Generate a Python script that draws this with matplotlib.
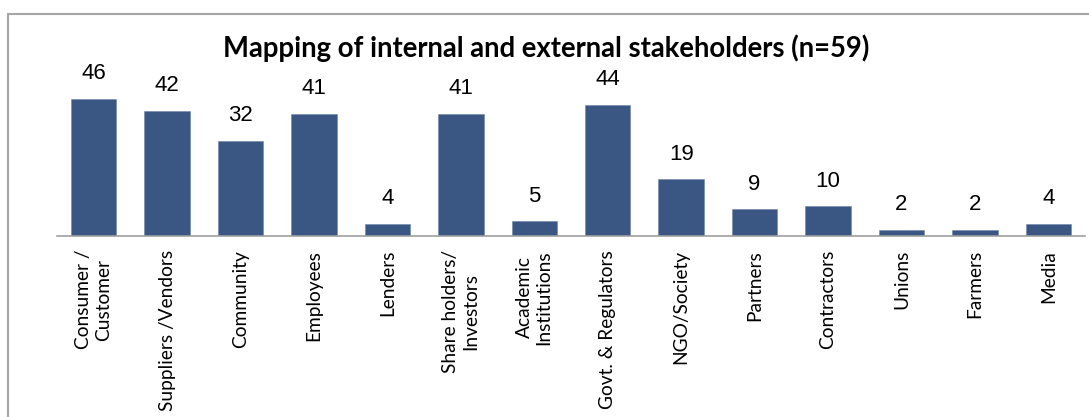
import matplotlib.pyplot as plt
from matplotlib.patches import Rectangle

categories = [
    "Consumer /\nCustomer",
    "Suppliers /Vendors",
    "Community",
    "Employees",
    "Lenders",
    "Share holders/\nInvestors",
    "Academic\nInstitutions",
    "Govt. & Regulators",
    "NGO/Society",
    "Partners",
    "Contractors",
    "Unions",
    "Farmers",
    "Media",
]
counts = [46, 42, 32, 41, 4, 41, 5, 44, 19, 9, 10, 2, 2, 4]

bar_color = "#3A5783"
W, H = 1089, 417

fig = plt.figure(figsize=(W / 100, H / 100), dpi=100)

# axes placed in pixel terms: baseline at y=236, x from 57 to 1085
ax = fig.add_axes([57 / W, (H - 236) / H, (1085 - 57) / W, 149 / H])

x = range(len(categories))
bars = ax.bar(x, counts, width=0.62, color=bar_color, edgecolor="#6f86a8", linewidth=0.4)

for b, v in zip(bars, counts):
    ax.annotate(
        str(v),
        (b.get_x() + b.get_width() / 2, b.get_height()),
        xytext=(0, 10.5),
        textcoords="offset points",
        ha="center",
        va="bottom",
        fontsize=16,
        family="Liberation Sans",
        annotation_clip=False,
    )

ax.set_xlim(-0.5, len(categories) - 0.5)
ax.set_ylim(0, 50)
ax.set_yticks([])
ax.set_xticks(list(x))
ax.set_xticklabels(categories, rotation=90, fontsize=13.8, family="Lato",
                   multialignment="center")
ax.tick_params(axis="x", length=0, pad=10)
for side in ["top", "left", "right"]:
    ax.spines[side].set_visible(False)
ax.spines["bottom"].set_color("#a0a0a0")
ax.spines["bottom"].set_linewidth(1.2)

fig.text(546 / W, 1 - 48 / H, "Mapping of internal and external stakeholders (n=59)",
         ha="center", va="center", fontsize=19.8, fontweight="bold", family="Lato")

# chart frame (cropped on the right and bottom)
fig.patches.append(Rectangle((8 / W, -0.1), 1.2, 1.1 - 14 / H, transform=fig.transFigure,
                             fill=False, edgecolor="#a6a6a6", linewidth=1.5))

fig.savefig("out.png", dpi=100)
